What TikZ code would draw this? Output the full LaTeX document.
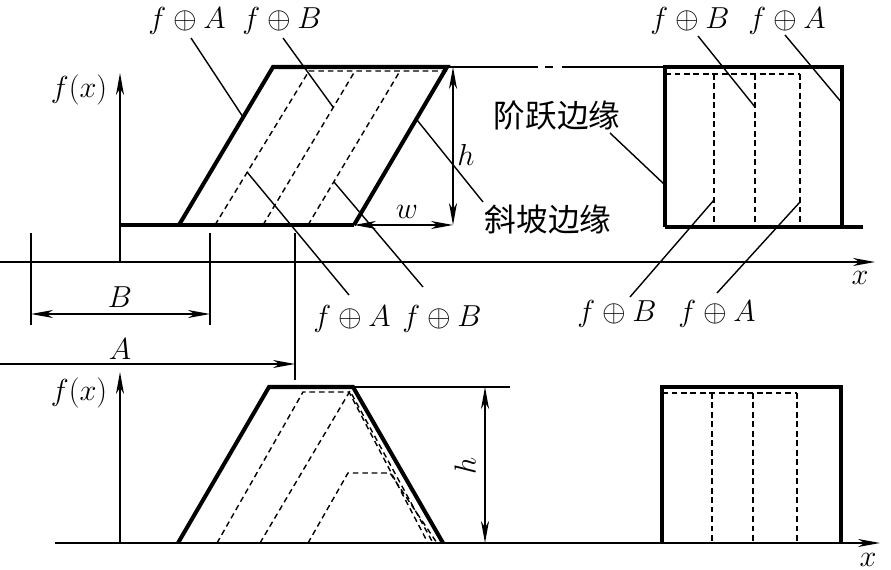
\documentclass[tikz,border=0pt]{standalone}
\usepackage{fontspec}
\setmainfont{Liberation Serif}
\newfontfamily\cjk{Noto Sans CJK SC}
\usetikzlibrary{arrows.meta}

\begin{document}
\begin{tikzpicture}[x=0.02cm, y=-0.02cm,
    >={Stealth[length=4.4mm, width=1.6mm, inset=1.3mm]},
    fine/.style={line width=0.8pt},
    bold/.style={line width=2.3pt, line join=miter},
    dsh/.style={line width=0.8pt, dash pattern=on 3.2pt off 2.2pt},
    lbl/.style={font=\fontsize{17}{20}\selectfont, inner sep=0pt},
    cjklbl/.style={font=\cjk\fontsize{18}{20}\selectfont, inner sep=0pt}]
\useasboundingbox (0,0) rectangle (891,570);

% Upper graph: axes
\coordinate (fy0) at (120,262); \coordinate (fy1) at (120,73);
\coordinate (ax0) at (0,262);   \coordinate (ax1) at (875,262);
\draw[fine, ->] (fy0) -- (fy1);
\draw[fine, ->] (ax0) -- (ax1);
\node[lbl] (fxu) at (79,90) {$f(x)$};
\node[lbl] (xu) at (860,278) {$x$};

% Ramp edge
\draw[bold] (120,225) -- (354,225);
\draw[bold] (179,225) -- (273,67) -- (447,67) -- (354,225);
\draw[dsh] (215,225) -- (309,71) -- (447,71);
\foreach \b in {263, 308} {
    \draw[dsh] (\b,225) -- (\b+92,71);
}
\draw[fine] (447,67) -- (538,67);
\draw[fine] (545,67) -- (553,67);
\draw[fine] (562,67) -- (665,67);

% h and w
\coordinate (hu0) at (453,67);  \coordinate (hu1) at (453,225);
\coordinate (w0) at (354,225);  \coordinate (w1) at (453,225);
\draw[fine, <->] (hu0) -- (hu1);
\draw[fine, <->] (w0) -- (w1);
\node[lbl] (hu) at (466,155) {$h$};
\node[lbl] (w) at (407,212) {$w$};

% Step edge
\draw[bold] (665,227) -- (665,67) -- (842,67) -- (842,227);
\draw[bold] (665,227) -- (863,227);
\draw[dsh] (665,74) -- (800,74);
\foreach \s in {714, 755, 800} {
    \draw[dsh] (\s,74) -- (\s,227);
}

% Dimensions A and B
\foreach \t/\e in {31/325, 210/325, 295/380} {
    \draw[fine] (\t,233) -- (\t,\e);
}
\coordinate (b0) at (31,314);  \coordinate (b1) at (210,314);
\coordinate (a0) at (0,364);   \coordinate (a1) at (295,364);
\draw[fine, <->] (b0) -- (b1);
\draw[fine, ->] (a0) -- (a1);
\node[lbl] (lb) at (120,297) {$B$};
\node[lbl] (la) at (120,349) {$A$};

% Leader labels
\node[lbl] (ta) at (187,21) {$f\oplus A$};
\node[lbl] (tb) at (282,21) {$f\oplus B$};
\node[lbl] (ma) at (352,319) {$f\oplus A$};
\node[lbl] (mb) at (442,319) {$f\oplus B$};
\node[lbl] (rtb) at (690,21) {$f\oplus B$};
\node[lbl] (rta) at (787,21) {$f\oplus A$};
\node[lbl] (rbb) at (617,314) {$f\oplus B$};
\node[lbl] (rba) at (717,314) {$f\oplus A$};
\node[cjklbl] (step) at (557,115) {阶跃边缘};
\node[cjklbl] (ramp) at (548,220) {斜坡边缘};

% Leader lines
\foreach \n/\px/\py/\qx/\qy in {1/191/38/243/117, 2/283/38/333/107, 3/349/295/247/172,
                                4/423/287/334/182, 5/483/202/417/120, 6/698/36/755/107,
                                7/785/35/842/103, 8/630/297/714/200, 9/717/293/800/202,
                                10/610/133/665/185} {
    \coordinate (ls\n) at (\px,\py);
    \coordinate (le\n) at (\qx,\qy);
    \draw[fine] (ls\n) -- (le\n);
}

% Lower graph: axes
\coordinate (gy0) at (120,543); \coordinate (gy1) at (120,372);
\coordinate (bx0) at (55,543);  \coordinate (bx1) at (880,543);
\draw[fine, ->] (gy0) -- (gy1);
\draw[fine, ->] (bx0) -- (bx1);
\node[lbl] (fxl) at (79,393) {$f(x)$};
\node[lbl] (xl) at (868,560) {$x$};

% Trapezoid
\draw[bold] (178,543) -- (269,387) -- (353,387) -- (443,543);
\draw[fine] (353,387) -- (510,387);
\draw[dsh] (217,543) -- (303,392) -- (349,392) -- (428,543);
\draw[dsh] (260,543) -- (350,391) -- (433,543);
\draw[dsh] (308,543) -- (348,473) -- (390,473) -- (437,543);
\coordinate (hl0) at (485,387); \coordinate (hl1) at (485,543);
\draw[fine, <->] (hl0) -- (hl1);
\node[lbl, rotate=90] (hl) at (465,466) {$h$};

% Step
\draw[bold] (662,543) -- (662,387) -- (841,387) -- (841,543);
\draw[dsh] (662,393) -- (797,393);
\foreach \s in {712, 753, 797} {
    \draw[dsh] (\s,393) -- (\s,543);
}
\end{tikzpicture}
\end{document}
